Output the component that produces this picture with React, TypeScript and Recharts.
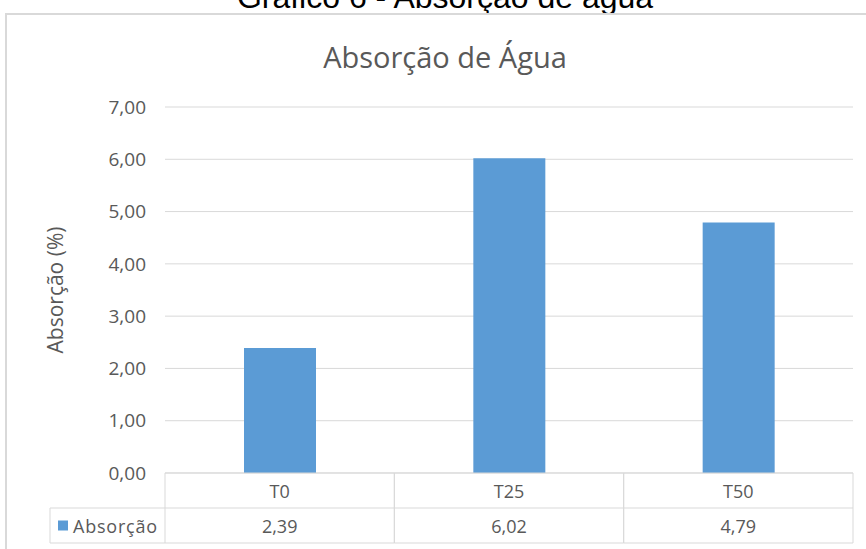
import { BarChart, Bar, XAxis, YAxis, CartesianGrid, Label } from "recharts";

const categories = ["T0", "T25", "T50"];
const absorcao = [2.39, 6.02, 4.79];
const yTicks = [0, 1, 2, 3, 4, 5, 6, 7];
const seriesName = "Absorção";

const data = categories.map((c, i) => ({ name: c, value: absorcao[i] }));

const W = 866;
const H = 549;
const PLOT_LEFT = 165;
const PLOT_RIGHT = 853;
const BAND = (PLOT_RIGHT - PLOT_LEFT) / categories.length;
const ROW = 35;
const GRID = "#d9d9d9";
const TEXT = "#595959";
const BLUE = "#5b9bd5";
const FONT = "'Open Sans', sans-serif";

const fmt = (v: number) => v.toFixed(2).replace(".", ",");

function TableTick(props: any) {
    const { x, y, payload, index } = props;
    const left = x - BAND / 2;
    const right = x + BAND / 2;
    return (
        <g>
            <line x1={left} y1={y} x2={left} y2={y + ROW * 2} stroke={GRID} />
            <line x1={right} y1={y} x2={right} y2={y + ROW * 2} stroke={GRID} />
            <line x1={left} y1={y + ROW} x2={right} y2={y + ROW} stroke={GRID} />
            <line x1={left} y1={y + ROW * 2} x2={right} y2={y + ROW * 2} stroke={GRID} />
            <text x={x} y={y + ROW / 2} textAnchor="middle" dominantBaseline="central" fill={TEXT} fontSize={18} fontFamily={FONT}>
                {payload.value}
            </text>
            <text x={x} y={y + ROW * 1.5} textAnchor="middle" dominantBaseline="central" fill={TEXT} fontSize={18} fontFamily={FONT}>
                {fmt(absorcao[index])}
            </text>
            {index === 0 && (
                <g>
                    <line x1={50} y1={y + ROW} x2={left} y2={y + ROW} stroke={GRID} />
                    <line x1={50} y1={y + ROW * 2} x2={left} y2={y + ROW * 2} stroke={GRID} />
                    <line x1={50} y1={y + ROW} x2={50} y2={y + ROW * 2} stroke={GRID} />
                    <rect x={58} y={y + ROW * 1.5 - 5} width={10} height={10} fill={BLUE} />
                    <text x={73} y={y + ROW * 1.5} dominantBaseline="central" fill={TEXT} fontSize={18} fontFamily={FONT} textLength={84}>
                        {seriesName}
                    </text>
                </g>
            )}
        </g>
    );
}

export default function App() {
    return (
        <div style={{ position: "fixed", left: 0, top: 0, width: W, height: H, overflow: "hidden", background: "#fff" }}>
            <div
                style={{
                    position: "absolute",
                    left: 0,
                    top: -19,
                    width: 890,
                    textAlign: "center",
                    fontFamily: "'Liberation Sans', Arial, sans-serif",
                    fontSize: 32,
                    lineHeight: "32px",
                    color: "#000",
                    whiteSpace: "nowrap",
                }}
            >
                Gráfico 6 - Absorção de água
            </div>
            <div
                style={{
                    position: "absolute",
                    left: 5,
                    top: 13,
                    width: 900,
                    height: 600,
                    border: `2px solid ${GRID}`,
                    boxSizing: "border-box",
                }}
            />
            <div
                style={{
                    position: "absolute",
                    left: 0,
                    top: 38,
                    width: 890,
                    textAlign: "center",
                    fontFamily: FONT,
                    fontSize: 29,
                    lineHeight: "38px",
                    color: TEXT,
                }}
            >
                Absorção de Água
            </div>
            <div style={{ position: "absolute", left: 0, top: 0 }}>
                <BarChart width={W} height={H} data={data} margin={{ top: 107, right: W - PLOT_RIGHT, bottom: 6, left: 0 }}>
                    <CartesianGrid vertical={false} stroke={GRID} />
                    <YAxis
                        width={PLOT_LEFT}
                        domain={[0, 7]}
                        ticks={yTicks}
                        tickFormatter={fmt}
                        axisLine={false}
                        tickLine={false}
                        tickSize={6}
                        tickMargin={13}
                        tick={{ fill: TEXT, fontSize: 19, fontFamily: FONT }}
                    >
                        <Label
                            value="Absorção (%)"
                            angle={-90}
                            position="insideLeft"
                            offset={56}
                            style={{ fill: TEXT, fontSize: 21, fontFamily: FONT, textAnchor: "middle" }}
                        />
                    </YAxis>
                    <XAxis
                        dataKey="name"
                        height={70}
                        axisLine={{ stroke: GRID }}
                        tickLine={false}
                        tickSize={0}
                        tickMargin={0}
                        interval={0}
                        tick={<TableTick />}
                    />
                    <Bar dataKey="value" fill={BLUE} barSize={72} isAnimationActive={false} />
                </BarChart>
            </div>
        </div>
    );
}
